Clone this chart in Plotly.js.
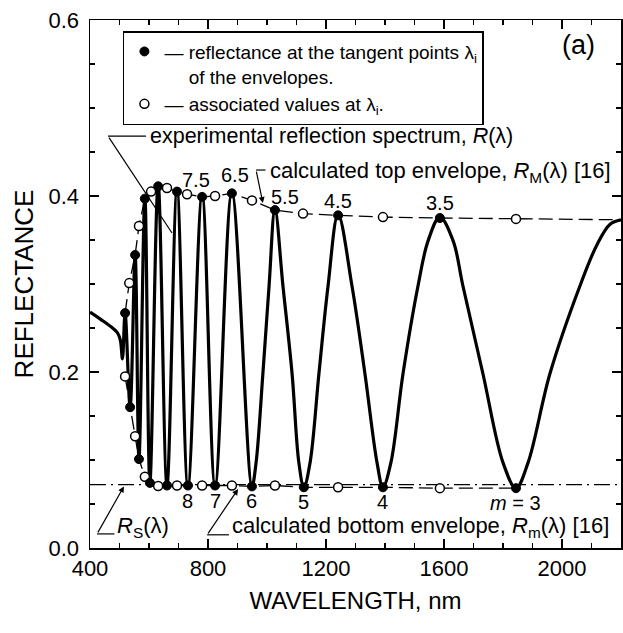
<!DOCTYPE html>
<html>
<head>
<meta charset="utf-8">
<script src="https://cdn.plot.ly/plotly-3.0.1.min.js"></script>
<style>
  html, body { margin: 0; padding: 0; background: #fff; }
  #chart { width: 623px; height: 633px; }
</style>
</head>
<body>
<div id="chart"></div>
<script>
// Measured reflection spectrum R(λ) of the film (wavelength in nm)
const specWl = [400, 440, 480, 494, 503, 510, 519, 536, 553, 566, 586, 603, 631, 661, 695, 732, 780, 824, 881, 949,
  963, 986, 1007, 1027, 1054, 1085, 1108, 1125, 1146, 1176, 1207, 1241, 1288, 1332, 1373, 1393,
  1420, 1461, 1512, 1546, 1586, 1631, 1664, 1732, 1800, 1844, 1885, 1959, 2061, 2119, 2163, 2200];
const specR = [0.268, 0.259, 0.249, 0.244, 0.236, 0.215, 0.267, 0.160, 0.333, 0.101, 0.399, 0.074, 0.414, 0.071, 0.407, 0.071, 0.401, 0.071, 0.404, 0.070,
  0.097, 0.198, 0.298, 0.385, 0.298, 0.198, 0.097, 0.069, 0.097, 0.198, 0.298, 0.379, 0.298, 0.198, 0.097, 0.069,
  0.097, 0.198, 0.298, 0.349, 0.376, 0.349, 0.298, 0.198, 0.097, 0.068, 0.097, 0.198, 0.298, 0.345, 0.368, 0.373];

// Tangent points on the top envelope (maxima), half-integer orders
const maxOrder = [12.5, 11.5, 10.5, 9.5, 8.5, 7.5, 6.5, 5.5, 4.5, 3.5];
const maxWl = [519, 553, 586, 631, 695, 780, 881, 1027, 1241, 1586];
const maxR = [0.267, 0.333, 0.397, 0.411, 0.405, 0.399, 0.403, 0.384, 0.378, 0.375];

// Tangent points on the bottom envelope (minima), integer orders
const minOrder = [12, 11, 10, 9, 8, 7, 6, 5, 4, 3];
const minWl = [536, 566, 603, 661, 732, 824, 949, 1125, 1393, 1844];
const minR = [0.160, 0.101, 0.074, 0.071, 0.071, 0.071, 0.070, 0.069, 0.069, 0.068];

// Associated values: top envelope at the minima wavelengths
const assocTopWl = [533, 566, 607, 661, 729, 824, 949, 1122, 1393, 1844];
const assocTopR = [0.301, 0.366, 0.405, 0.409, 0.402, 0.400, 0.395, 0.380, 0.376, 0.374];

// Associated values: bottom envelope at the maxima wavelengths
const assocBotWl = [519, 553, 586, 631, 695, 780, 881, 1027, 1241, 1586];
const assocBotR = [0.195, 0.127, 0.081, 0.0705, 0.071, 0.071, 0.071, 0.071, 0.069, 0.068];

// Continuation of the top envelope to the end of the range
const topEndWl = [2200];
const topEndR = [0.373];

// Substrate reflectance R_S(λ)
const rsWl = [400, 2200];
const rsR = [0.072, 0.072];

const FONT = 'Arial, "Liberation Sans", Helvetica, sans-serif';

function sortedPairs(xs, ys) {
  const p = xs.map((x, i) => [x, ys[i]]).sort((a, b) => a[0] - b[0]);
  return { x: p.map(v => v[0]), y: p.map(v => v[1]) };
}
const topEnv = sortedPairs(maxWl.concat(assocTopWl, topEndWl), maxR.concat(assocTopR, topEndR));
const botEnv = sortedPairs(minWl.concat(assocBotWl), minR.concat(assocBotR));

const traces = [
  { x: rsWl, y: rsR, mode: 'lines', showlegend: false, hoverinfo: 'skip',
    line: { color: 'black', width: 1.2, dash: '16px,5px,2px,5px' } },
  { x: topEnv.x, y: topEnv.y, mode: 'lines', showlegend: false, hoverinfo: 'skip',
    line: { color: 'black', width: 1.3, dash: '14px,6px' } },
  { x: botEnv.x, y: botEnv.y, mode: 'lines', showlegend: false, hoverinfo: 'skip',
    line: { color: 'black', width: 1.3, dash: '14px,6px' } },
  { x: specWl, y: specR, mode: 'lines', showlegend: false,
    line: { color: 'black', width: 3.2, shape: 'spline', smoothing: 1 } },
  { x: assocTopWl.concat(assocBotWl), y: assocTopR.concat(assocBotR), mode: 'markers',
    name: '—\u00a0associated values at λ<sub>i</sub>.', legendrank: 2,
    marker: { symbol: 'circle', size: 9, color: 'white', line: { color: 'black', width: 1.5 } } },
  { x: maxWl.concat(minWl), y: maxR.concat(minR), mode: 'markers',
    name: '—\u00a0reflectance at the tangent points λ<sub>i</sub><br>\u2003\u00a0of the envelopes.', legendrank: 1,
    marker: { symbol: 'circle', size: 9, color: 'black', line: { color: 'black', width: 1 } } }
];

// nudges (px) so neighbouring order numbers and captions do not collide
const maxLabelShiftX = { 7.5: -6, 6.5: 3, 5.5: 10 };
const maxLabelShiftY = { 7.5: 17, 6.5: 18, 5.5: 13, 4.5: 14, 3.5: 15 };
const annotations = [];
// order numbers above the maxima and below the minima
maxOrder.forEach((m, i) => {
  if (m <= 7.5) annotations.push({ x: maxWl[i], y: maxR[i], text: m.toFixed(1), showarrow: false,
    yshift: maxLabelShiftY[m], xshift: maxLabelShiftX[m] || 0, font: { size: 20, family: FONT, color: 'black' } });
});
minOrder.forEach((m, i) => {
  if (m <= 8) annotations.push({ x: minWl[i], y: minR[i], text: m === 3 ? '<i>m</i> = 3' : String(m), showarrow: false,
    yshift: -15, font: { size: 20, family: FONT, color: 'black' } });
});

const txt = (s, x, y, size) => ({ xref: 'paper', yref: 'paper', x, y, xanchor: 'left', yanchor: 'middle',
  text: s, showarrow: false, font: { size: size || 21, family: FONT, color: 'black' } });
annotations.push(
  txt('(a)', 0.886, 0.952, 27),
  txt('experimental reflection spectrum, <i>R</i>(λ)', 0.11, 0.78, 21.5),
  txt('calculated top envelope, <i>R</i><sub>M</sub>(λ) [16]', 0.336, 0.712, 22),
  txt('calculated bottom envelope, <i>R</i><sub>m</sub>(λ) [16]', 0.264, 0.04, 22),
  txt('<i>R</i><sub>S</sub>(λ)', 0.048, 0.04, 22)
);
// leader arrows
const leader = (tx, ty, hx, hy, head) => ({ x: hx, y: hy, ax: tx, ay: ty, axref: 'x', ayref: 'y', xref: 'x', yref: 'y',
  text: '', showarrow: true, arrowhead: head, arrowsize: 1, arrowwidth: 1.2, arrowcolor: 'black', standoff: 0 });
annotations.push(
  leader(461, 0.468, 678, 0.358, 0),
  leader(963, 0.4295, 986, 0.392, 2),
  leader(797, 0.015, 902, 0.067, 2),
  leader(424, 0.016, 515, 0.070, 2)
);
const hline = (x0, x1, y) => ({ type: 'line', xref: 'x', yref: 'y', x0, x1, y0: y, y1: y,
  line: { color: 'black', width: 1.2 } });
const shapes = [
  hline(461, 590, 0.468),
  hline(963, 995, 0.4295),
  hline(797, 871, 0.015),
  hline(424, 483, 0.016)
];

const axisCommon = {
  showline: true, linecolor: 'black', linewidth: 1.5, mirror: 'ticks',
  ticks: 'inside', ticklen: 9, tickwidth: 1.5, tickcolor: 'black',
  showgrid: false, zeroline: false,
  tickfont: { size: 22, family: FONT, color: 'black' }
};

const layout = {
  width: 623, height: 633,
  margin: { l: 90, r: 2, t: 20, b: 85 },
  paper_bgcolor: 'white', plot_bgcolor: 'white',
  font: { family: FONT, color: 'black' },
  xaxis: Object.assign({}, axisCommon, {
    range: [400, 2200], tick0: 400, dtick: 400,
    minor: { dtick: 100, ticks: 'inside', ticklen: 5, tickwidth: 1.2, tickcolor: 'black' },
    title: { text: 'WAVELENGTH, nm', font: { size: 24, family: FONT }, standoff: 12 }
  }),
  yaxis: Object.assign({}, axisCommon, {
    range: [0, 0.6], tick0: 0, dtick: 0.2, tickformat: '.1f', ticklabelstandoff: 5,
    minor: { dtick: 0.05, ticks: 'inside', ticklen: 5, tickwidth: 1.2, tickcolor: 'black' },
    title: { text: 'REFLECTANCE', font: { size: 26, family: FONT }, standoff: 7 }
  }),
  legend: {
    x: 0.062, y: 0.979, xanchor: 'left', yanchor: 'top',
    bgcolor: 'white', bordercolor: 'black', borderwidth: 1.5,
    font: { size: 19, family: FONT, color: 'black' }, valign: 'top',
    tracegroupgap: 0, itemwidth: 30, traceorder: 'normal'
  },
  annotations, shapes
};

Plotly.newPlot('chart', traces, layout, { staticPlot: true, displayModeBar: false });
</script>
</body>
</html>
